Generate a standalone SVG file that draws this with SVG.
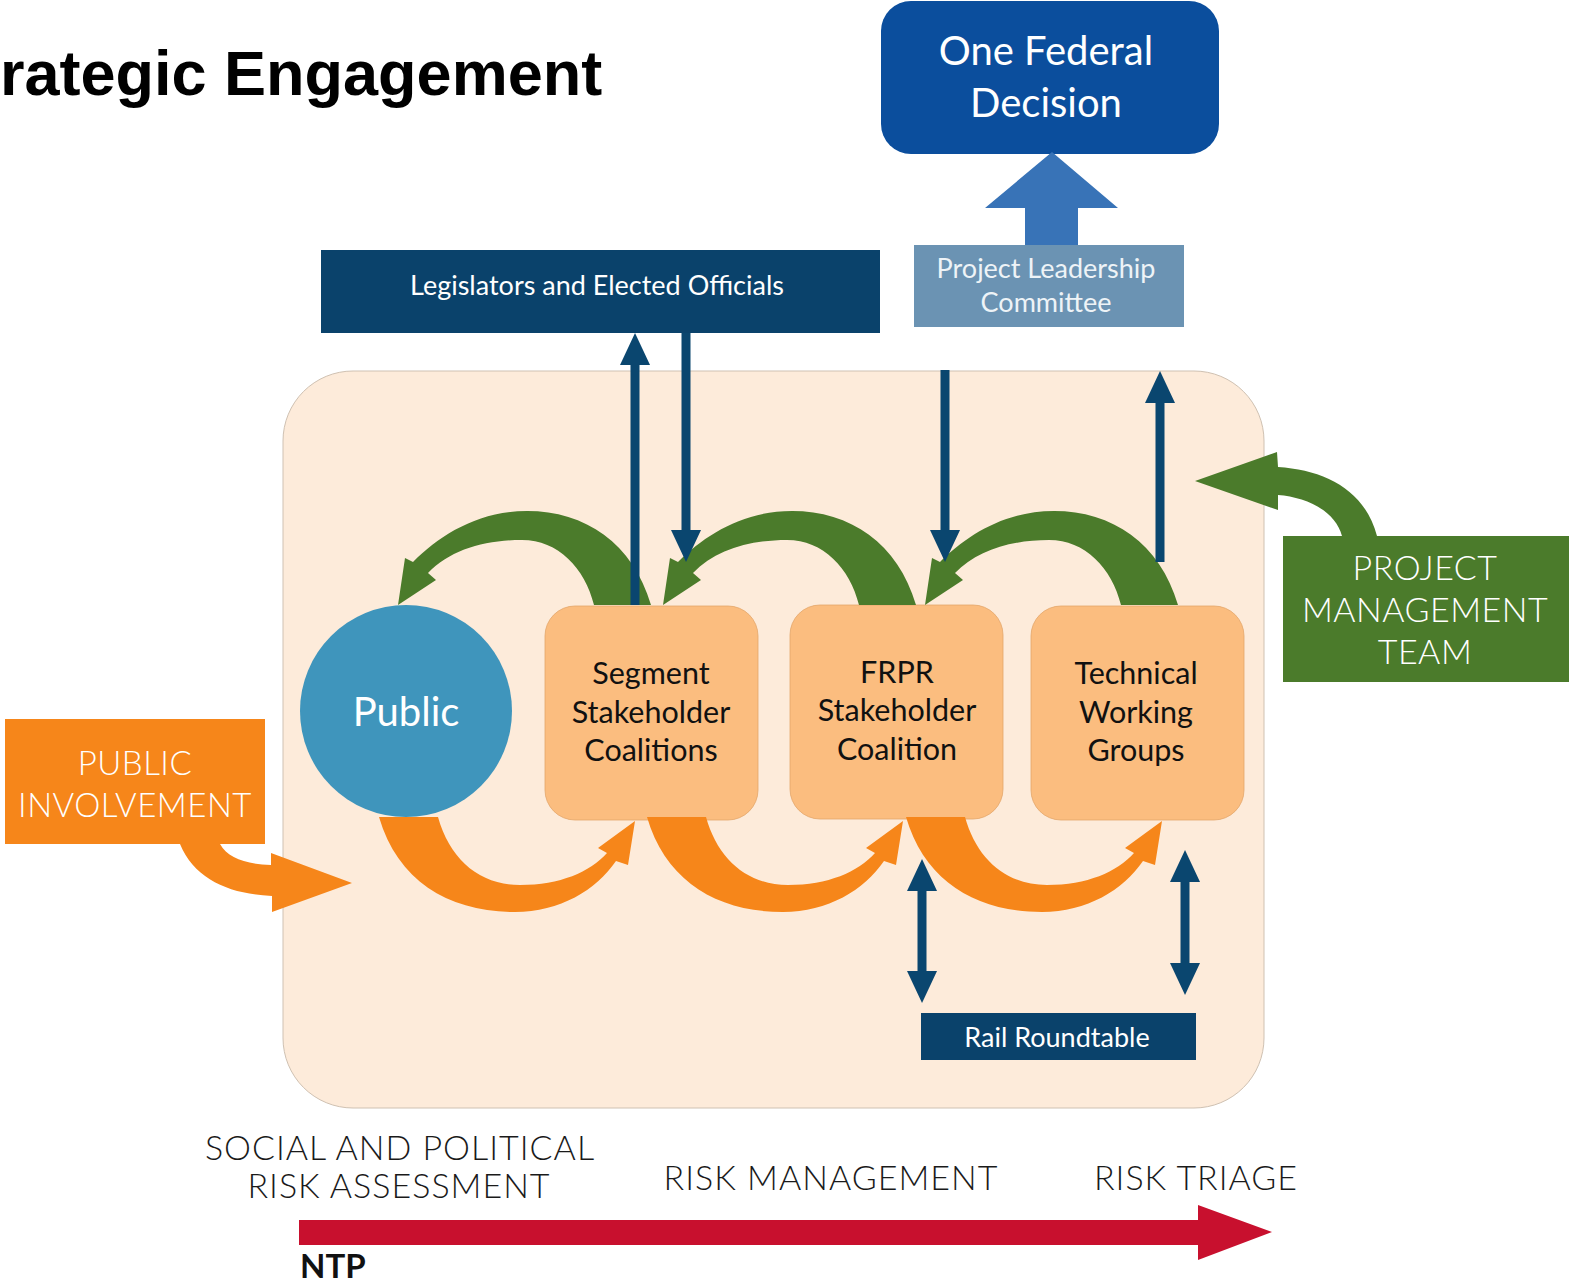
<svg xmlns="http://www.w3.org/2000/svg" width="1569" height="1282" viewBox="0 0 1569 1282">
<style>
  .t { font-family: Lato, "Open Sans", "Noto Sans", sans-serif; text-anchor: middle; }
  .w { fill: #ffffff; }
  .lt { font-weight: 300; letter-spacing: 0.5px; }
  .k { fill: #111111; }
  .node { fill: #fbbd7f; stroke: #e3a66a; stroke-width: 0.8; }
  .navy { fill: #0a426b; }
  .nv { stroke: #0a466f; stroke-width: 9; fill: none; }
  .green { fill: #4b7b2b; }
  .orange { fill: #f6861a; }
  .axis { font-family: Lato, "Open Sans", sans-serif; font-weight: 300; letter-spacing: 1px; font-size: 34px; fill: #1a1a1a; text-anchor: middle; }
</style>
<defs>
  <marker id="ah" viewBox="0 0 32 30" markerWidth="32" markerHeight="30" refX="0" refY="15" orient="auto-start-reverse" markerUnits="userSpaceOnUse">
    <path d="M0,0 L32,15 L0,30 Z" fill="#0a466f"/>
  </marker>
  <path id="garc" d="M 651 605 C 633 543, 585 511, 527 511 C 478 511, 440 535, 413 562 L 405 558 L 398 605 L 436 580 L 428 573 C 450 550, 485 540, 522 540 C 558 540, 585 568, 594 605 Z"/>
  <path id="oarc" d="M 379 817 C 398 882, 450 912, 515 912 C 560 912, 596 890, 616 861 L 628 865 L 635 821 L 598 848 L 607 853 C 590 872, 560 885, 520 885 C 480 885, 450 860, 438 817 Z"/>
</defs>

<rect width="1569" height="1282" fill="#ffffff"/>

<text x="0" y="95" font-family="'Liberation Sans', Arial, sans-serif" font-weight="bold" font-size="63" fill="#000">rategic Engagement</text>

<g id="panel">
  <rect x="283" y="371" width="981" height="737" rx="70" fill="#fdebda" stroke="#cfc1b2" stroke-width="1"/>
</g>

<g id="one-federal-decision">
  <rect x="881" y="1" width="338" height="153" rx="30" fill="#0b4e9d"/>
  <text class="t w" x="1046" y="65" font-size="40">One Federal</text>
  <text class="t w" x="1046" y="117" font-size="40">Decision</text>
</g>

<g id="project-leadership-committee">
  <rect x="914" y="245" width="270" height="82" fill="#6b93b3"/>
  <text class="t" x="1046" y="278" font-size="27" fill="#eef3f7">Project Leadership</text>
  <text class="t" x="1046" y="312" font-size="27" fill="#eef3f7">Committee</text>
</g>

<g id="legislators">
  <rect x="321" y="250" width="559" height="83" class="navy"/>
  <text class="t w" x="597" y="295" font-size="27">Legislators and Elected Officials</text>
</g>

<g id="rail-roundtable">
  <rect x="921" y="1013" width="275" height="47" class="navy"/>
  <text class="t w" x="1057" y="1047" font-size="27">Rail Roundtable</text>
</g>

<g id="public">
  <circle cx="406" cy="711" r="106" fill="#3f95bc"/>
  <text class="t w" x="406" y="726" font-size="40">Public</text>
</g>

<g id="segment">
  <rect x="545" y="606" width="213" height="214" rx="30" class="node"/>
  <text class="t k" x="651" y="684" font-size="30.5">Segment</text>
  <text class="t k" x="651" y="723" font-size="30.5">Stakeholder</text>
  <text class="t k" x="651" y="761" font-size="30.5">Coalitions</text>
</g>

<g id="frpr">
  <rect x="790" y="605" width="213" height="214" rx="30" class="node"/>
  <text class="t k" x="897" y="683" font-size="30.5">FRPR</text>
  <text class="t k" x="897" y="721" font-size="30.5">Stakeholder</text>
  <text class="t k" x="897" y="760" font-size="30.5">Coalition</text>
</g>

<g id="technical">
  <rect x="1031" y="606" width="213" height="214" rx="30" class="node"/>
  <text class="t k" x="1136" y="684" font-size="30.5">Technical</text>
  <text class="t k" x="1136" y="723" font-size="30.5">Working</text>
  <text class="t k" x="1136" y="761" font-size="30.5">Groups</text>
</g>

<g id="public-involvement">
  <rect x="5" y="719" width="260" height="125" fill="#f6861a"/>
  <text class="t w lt" x="135" y="775" font-size="33">PUBLIC</text>
  <text class="t w lt" x="135" y="817" font-size="33">INVOLVEMENT</text>
</g>

<g id="project-management-team">
  <rect x="1283" y="536" width="286" height="146" fill="#4b7b2b"/>
  <text class="t w lt" x="1425" y="580" font-size="34">PROJECT</text>
  <text class="t w lt" x="1425" y="622" font-size="34">MANAGEMENT</text>
  <text class="t w lt" x="1425" y="664" font-size="34">TEAM</text>
</g>

<g id="connectors">
  <path d="M1025,245 L1025,208 L985,208 L1052,152 L1118,208 L1078,208 L1078,245 Z" fill="#3873b7"/>
  <use href="#garc" class="green"/>
  <use href="#garc" class="green" transform="translate(265,0)"/>
  <use href="#garc" class="green" transform="translate(527,0)"/>
  <use href="#oarc" class="orange"/>
  <use href="#oarc" class="orange" transform="translate(268,0)"/>
  <use href="#oarc" class="orange" transform="translate(527,0)"/>
  <path d="M180,844 C195,880 230,894 272,896 L272,912 L352,883 L271,853 L271,865 C245,864 228,858 220,844 Z" class="orange"/>
  <path d="M1377,536 C1365,490 1325,470 1278,467 L1277,452 L1195,481 L1278,510 L1278,495 C1305,497 1335,510 1342,536 Z" class="green"/>
  <line x1="635" y1="605" x2="635" y2="365" class="nv" marker-end="url(#ah)"/>
  <line x1="686" y1="333" x2="686" y2="530" class="nv" marker-end="url(#ah)"/>
  <line x1="945" y1="370" x2="945" y2="530" class="nv" marker-end="url(#ah)"/>
  <line x1="1160" y1="562" x2="1160" y2="403" class="nv" marker-end="url(#ah)"/>
  <line x1="922" y1="891" x2="922" y2="971" class="nv" marker-start="url(#ah)" marker-end="url(#ah)"/>
  <line x1="1185" y1="882" x2="1185" y2="963" class="nv" marker-start="url(#ah)" marker-end="url(#ah)"/>
  <path d="M299,1220 L1198,1220 L1198,1205 L1272,1232 L1198,1260 L1198,1245 L299,1245 Z" fill="#c8102e"/>
</g>

<g id="timeline-labels">
  <text class="axis" x="400" y="1160">SOCIAL AND POLITICAL</text>
  <text class="axis" x="399" y="1198">RISK ASSESSMENT</text>
  <text class="axis" x="831" y="1190">RISK MANAGEMENT</text>
  <text class="axis" x="1196" y="1190">RISK TRIAGE</text>
  <text x="300" y="1278" font-family="Lato, 'Open Sans', sans-serif" font-weight="bold" font-size="33" fill="#111">NTP</text>
</g>
</svg>
